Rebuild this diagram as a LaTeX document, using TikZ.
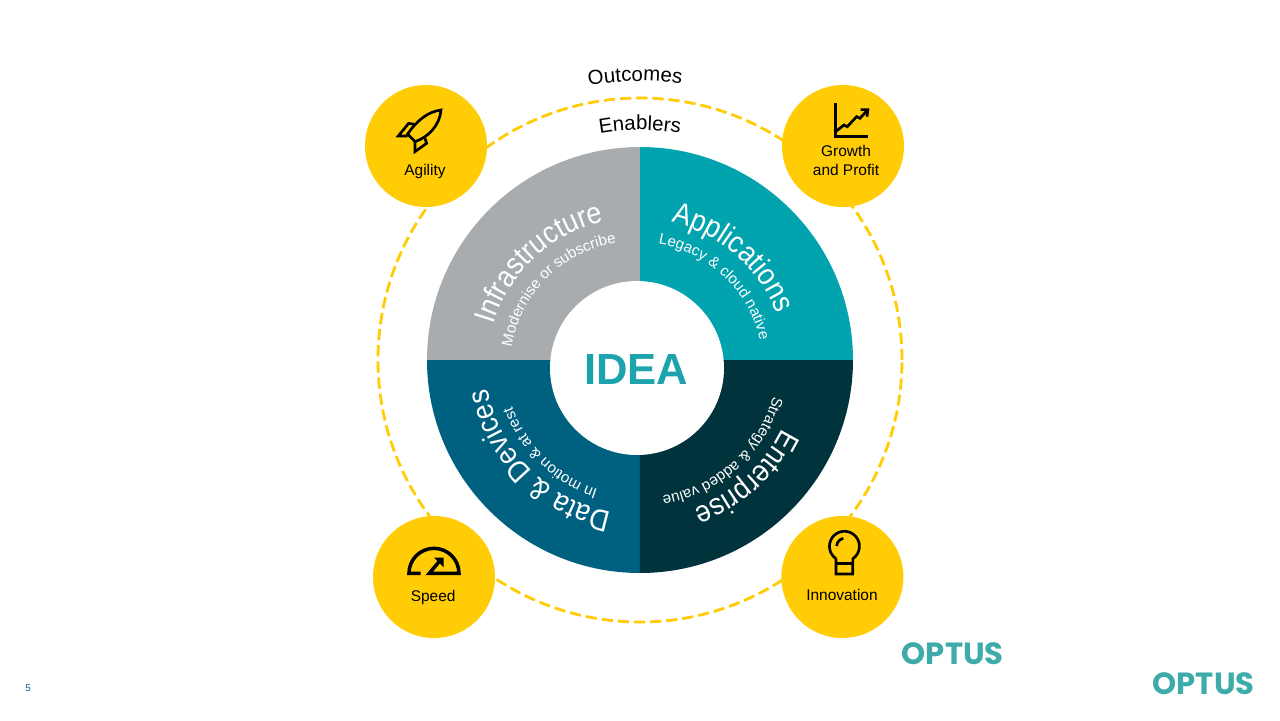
\documentclass[tikz,border=0pt]{standalone}
\usepackage{xcolor}
\usepackage{fontspec}
\setmainfont{Liberation Sans}
\newfontfamily\logofont{Poppins}
\newfontfamily\arcfont[FakeStretch=0.89]{Liberation Sans}
\usetikzlibrary{decorations.text}
\definecolor{goldyellow}{HTML}{FFCC05}
\definecolor{stonegrey}{HTML}{A9ACAE}
\definecolor{appteal}{HTML}{00A3AE}
\definecolor{deepteal}{HTML}{00333B}
\definecolor{dataBlue}{HTML}{006080}
\definecolor{ideateal}{HTML}{1CA3AE}
\definecolor{logoteal}{HTML}{3DABA9}
\newcommand{\titlefont}{\color{white}\arcfont\fontsize{21.5}{21.5}\selectfont}
\newcommand{\subfont}{\color{white}\fontsize{10.8}{10.8}\selectfont}
\newcommand{\ringfont}{\color{black}\fontsize{14.5}{14.5}\selectfont}
\tikzset{
	arctext/.style={decorate,decoration={text along path,text align=center,text={#1}}},
	goalcircle/.style={circle,fill=goldyellow,minimum size=3.05cm,inner sep=0pt},
	goallabel/.style={font=\fontsize{11}{13.6}\selectfont,align=center,inner sep=0pt},
	logotext/.style={font=\logofont\bfseries\fontsize{21.8}{21.8}\selectfont,text=logoteal,inner sep=0pt},
	iconline/.style={black,line width=1.9pt,line join=miter}
}
\begin{document}
\begin{tikzpicture}
	\useasboundingbox (-16,-9) rectangle (16,9);
	% dashed ring and the four quarters
	\draw[goldyellow,line width=2pt,dash pattern=on 8pt off 3.5pt] (0,0) circle (6.55);
	\fill[appteal] (0,0) -- (5.325,0) arc[start angle=0,end angle=90,radius=5.325] -- cycle;
	\fill[stonegrey] (0,0) -- (0,5.325) arc[start angle=90,end angle=180,radius=5.325] -- cycle;
	\fill[dataBlue] (0,0) -- (-5.325,0) arc[start angle=180,end angle=270,radius=5.325] -- cycle;
	\fill[deepteal] (0,0) -- (0,-5.325) arc[start angle=270,end angle=360,radius=5.325] -- cycle;
	\node[circle,fill=white,minimum size=4.35cm,inner sep=0pt] (hole) at (-0.075,-0.2) {};
	\node[font=\bfseries\fontsize{31}{31}\selectfont,text=ideateal,inner sep=0pt] (idea) at (-0.09,-0.25) {IDEA};
	% text on the arcs
	\path[arctext={|\ringfont|Outcomes}] (0,0) ++(106:6.975) arc[start angle=106,end angle=76,radius=6.975];
	\path[arctext={|\ringfont|Enablers}] (0,0) ++(110:5.75) arc[start angle=110,end angle=70,radius=5.75];
	\path[arctext={|\titlefont|Infrastructure}] (-0.075,-0.2) ++(178:3.75) arc[start angle=178,end angle=88,radius=3.75];
	\path[arctext={|\subfont|Modernise or subscribe}] (-0.075,-0.2) ++(180:3.175) arc[start angle=180,end angle=90,radius=3.175];
	\path[arctext={|\titlefont|Applications}] (-0.075,-0.2) ++(94.5:3.75) arc[start angle=94.5,end angle=3.5,radius=3.75];
	\path[arctext={|\subfont|Legacy {\&} cloud native}] (-0.075,-0.2) ++(91.5:3.15) arc[start angle=91.5,end angle=1.5,radius=3.15];
	\path[arctext={|\titlefont|Enterprise}] (0,0) ++(-3:3.95) arc[start angle=-3,end angle=-93,radius=3.95];
	\path[arctext={|\subfont|Strategy {\&} added value}] (0,0) ++(-3:3.45) arc[start angle=-3,end angle=-93,radius=3.45];
	\path[arctext={|\titlefont|Data {\&} Devices}] (0,0) ++(270:3.875) arc[start angle=270,end angle=180,radius=3.875];
	\path[arctext={|\subfont|In motion {\&} at rest}] (0,0) ++(271:3.4) arc[start angle=271,end angle=181,radius=3.4];
	% the four outcomes
	\node[goalcircle] (agility) at (-5.35,5.35) {};
	\node[goalcircle] (growth) at (5.075,5.35) {};
	\node[goalcircle] (speed) at (-5.15,-5.425) {};
	\node[goalcircle] (innovation) at (5.06,-5.425) {};
	\node[goallabel] (agilitytext) at (-5.375,4.71) {Agility};
	\node[goallabel] (growthtext) at (5.15,4.98) {Growth\\ and Profit};
	\node[goallabel] (speedtext) at (-5.17,-5.94) {Speed};
	\node[goallabel] (innovationtext) at (5.05,-5.87) {Innovation};
	% rocket
	\begin{scope}[shift={(-7,7.5)},x=0.00833cm,y=-0.00833cm]
		\draw[iconline] (243,150) .. controls (205,155) and (172,180) .. (143,222) -- (165,245) .. controls (205,232) and (240,195) .. (243,150) -- cycle;
		\draw[iconline] (163,193) -- (146,190) -- (115,228) -- (143,228);
		\draw[iconline] (195,235) -- (200,250) -- (165,275) -- (165,245);
	\end{scope}
	% chart
	\begin{scope}[shift={(0,7.5)},x=0.00833cm,y=-0.00833cm]
		\draw[iconline] (587,130) -- (587,230) -- (685,230);
		\draw[iconline] (587,215) -- (612,195) -- (622,200) -- (650,170) -- (660,175) -- (683,150);
		\draw[iconline] (662,149) -- (684,149) -- (681,170);
	\end{scope}
	% gauge
	\begin{scope}[shift={(-7,-3.75)},x=0.00833cm,y=-0.00833cm]
		\draw[iconline,line width=2.5pt] (182,190) -- (147,190) arc[start angle=180,end angle=360,radius=75] -- (208,190) -- (240,152);
		\fill[black] (222,143) -- (251,143) -- (251,172) -- cycle;
	\end{scope}
	% bulb
	\begin{scope}[shift={(3.25,-3.75)},x=0.00833cm,y=-0.00833cm]
		\draw[iconline] (198,146) arc[start angle=124.4,end angle=415.6,radius=45] -- (248,192) -- (198,192) -- (198,146);
		\draw[iconline] (198,160) -- (248,160);
		\draw[iconline] (200,108) .. controls (201,97) and (208,88) .. (220,85);
	\end{scope}
	% logos and page number
	\node[logotext] (logoa) at (7.82,-7.33) {OPTUS};
	\node[logotext] (logob) at (14.09,-8.1) {OPTUS};
	\node[font=\fontsize{7}{7}\selectfont,text=dataBlue,inner sep=0pt] (pagenum) at (-15.3,-8.2) {5};
\end{tikzpicture}
\end{document}
